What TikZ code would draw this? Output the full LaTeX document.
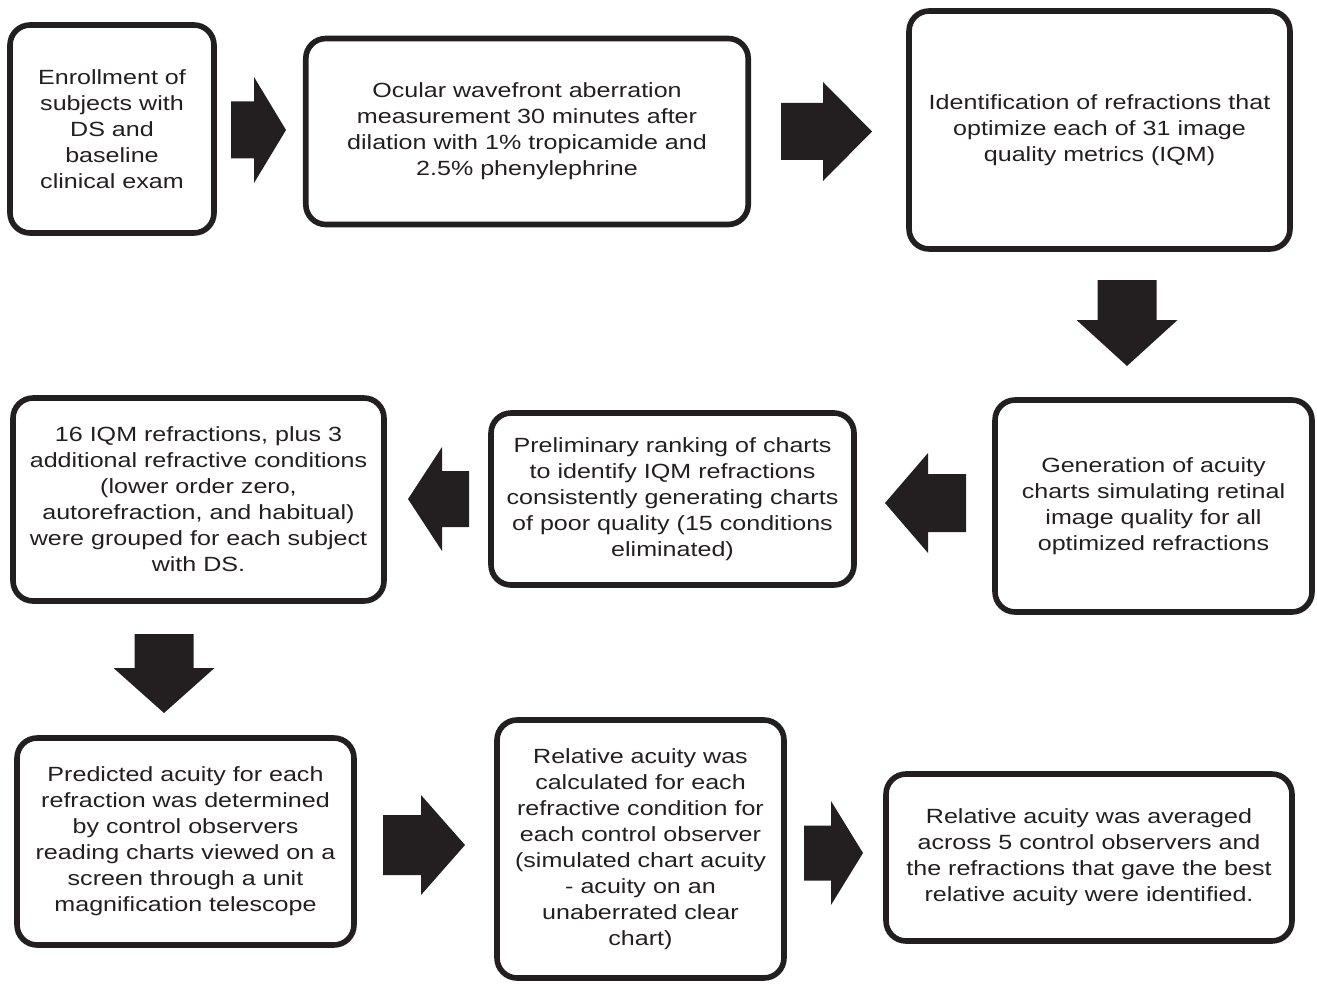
\documentclass[tikz,border=0pt]{standalone}
\usepackage{fontspec}
\setmainfont{Liberation Sans}[FakeStretch=1.22]
\usetikzlibrary{positioning}
\definecolor{ink}{HTML}{231F20}

\begin{document}
\begin{tikzpicture}[x=0.02cm, y=-0.02cm,
  flowbox/.style={draw=ink, line width=3.2pt, rounded corners=0.4cm,
    align=center, inner sep=0pt, text=ink,
    font=\fontsize{11.7}{14.8}\selectfont}]
  \useasboundingbox (0,0) rectangle (1317,983);
  % top row
  \node[flowbox, minimum width=4.08cm, minimum height=4.16cm] (enroll) at (112,129)
    {Enrollment of\\subjects with\\DS and\\baseline\\clinical exam};
  \node[flowbox, minimum width=8.85cm, minimum height=3.72cm] (wavefront) at (527,131.5)
    {Ocular wavefront aberration\\measurement 30 minutes after\\dilation with 1\% tropicamide and\\2.5\% phenylephrine};
  \node[flowbox, minimum width=7.62cm, minimum height=4.76cm] (identify) at (1099.5,130)
    {Identification of refractions that\\optimize each of 31 image\\quality metrics (IQM)};
  % middle row
  \node[flowbox, minimum width=6.34cm, minimum height=4.24cm] (charts) at (1153.5,506)
    {Generation of acuity\\charts simulating retinal\\image quality for all\\optimized refractions};
  \node[flowbox, minimum width=7.26cm, minimum height=3.44cm] (ranking) at (672.5,499)
    {Preliminary ranking of charts\\to identify IQM refractions\\consistently generating charts\\of poor quality (15 conditions\\eliminated)};
  \node[flowbox, minimum width=7.42cm, minimum height=4.06cm] (grouped) at (198.5,499.5)
    {16 IQM refractions, plus 3\\additional refractive conditions\\(lower order zero,\\autorefraction, and habitual)\\were grouped for each subject\\with DS.};
  % bottom row
  \node[flowbox, minimum width=6.74cm, minimum height=4.14cm] (predicted) at (185.5,841.5)
    {Predicted acuity for each\\refraction was determined\\by control observers\\reading charts viewed on a\\screen through a unit\\magnification telescope};
  \node[flowbox, minimum width=5.74cm, minimum height=5.16cm] (relative) at (640.5,849)
    {Relative acuity was\\calculated for each\\refractive condition for\\each control observer\\(simulated chart acuity\\- acuity on an\\unaberrated clear\\chart)};
  \node[flowbox, minimum width=8.12cm, minimum height=3.34cm] (averaged) at (1089,857.5)
    {Relative acuity was averaged\\across 5 control observers and\\the refractions that gave the best\\relative acuity were identified.};
  % block arrows, left or right
  \foreach \xs/\xh/\xt/\yc/\sh/\hh in {231/254/286/130/28.5/53, 781/823/872/131.5/28.5/49.5,
      966/928/885/503/29/50, 469/442/408/499/28/52,
      383/421/465/845/30/50, 804/831/863/853/27.5/52} {
    \fill[ink] (\xs,\yc-\sh) -- (\xh,\yc-\sh) -- (\xh,\yc-\hh) -- (\xt,\yc)
      -- (\xh,\yc+\hh) -- (\xh,\yc+\sh) -- (\xs,\yc+\sh) -- cycle;
  };
  % block arrows, down
  \foreach \ys/\yh/\yt/\xc/\sw/\hw in {280/320/366/1127/29.5/50.5, 634/668/713/164/29.5/50.5} {
    \fill[ink] (\xc-\sw,\ys) -- (\xc-\sw,\yh) -- (\xc-\hw,\yh) -- (\xc,\yt)
      -- (\xc+\hw,\yh) -- (\xc+\sw,\yh) -- (\xc+\sw,\ys) -- cycle;
  };
\end{tikzpicture}
\end{document}
